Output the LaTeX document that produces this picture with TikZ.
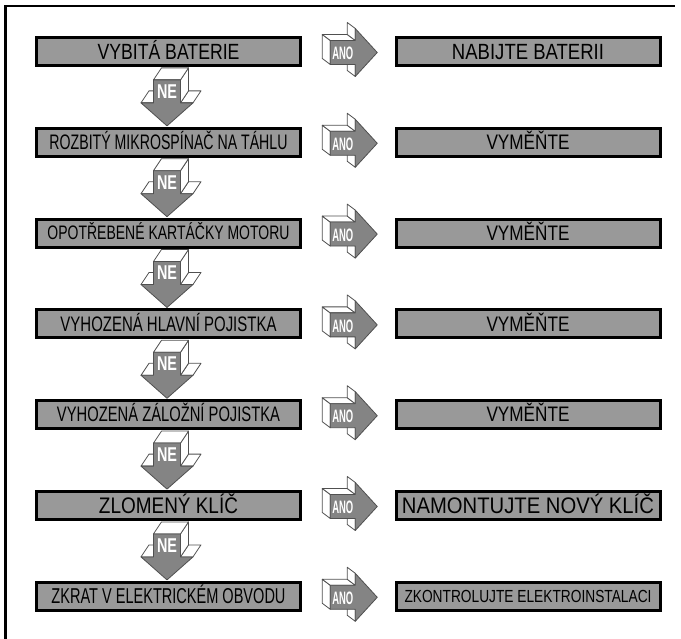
\documentclass[tikz,border=0pt]{standalone}
\usepackage{fontspec}
\setmainfont{Liberation Sans}
\usepackage{graphicx}
\usetikzlibrary{calc,positioning}
\definecolor{boxgray}{RGB}{153,153,153}
\definecolor{arrgray}{RGB}{132,132,132}
\definecolor{edgegray}{RGB}{80,80,80}
\tikzset{blk/.style={draw, line width=3pt, fill=boxgray, minimum width=264pt, minimum height=28pt, inner sep=0pt},
  face/.style={fill=white, draw=edgegray, line width=0.8pt, line join=round},
  front/.style={fill=arrgray, draw=edgegray, line width=0.8pt, line join=round},
  lbl/.style={text=white, inner sep=0pt}}
% width, font size, text (caps centred in the node)
\newcommand{\cond}[3]{{\fontsize{#2}{#2}\selectfont
  \raisebox{0pt}[\fontcharht\font`X][0pt]{\resizebox{#1pt}{\height}{#3}}}}

\begin{document}
\begin{tikzpicture}[x=1pt, y=-1pt]
  \useasboundingbox (0,0) rectangle (681,639);
  % frame
  \draw[line width=2.5pt] (5.5,639) -- (5.5,6) -- (675,6);
  % causes
  \node[blk] (l1) at (168.5,51.5)  {\cond{142}{22}{VYBITÁ BATERIE}};
  \node[blk] (l2) at (168.5,142.3) {\cond{238}{21}{ROZBITÝ MIKROSPÍNAČ NA TÁHLU}};
  \node[blk] (l3) at (168.5,233.1) {\cond{242}{19.5}{OPOTŘEBENÉ KARTÁČKY MOTORU}};
  \node[blk] (l4) at (168.5,323.9) {\cond{216}{21}{VYHOZENÁ HLAVNÍ POJISTKA}};
  \node[blk] (l5) at (168.5,414.7) {\cond{223}{21}{VYHOZENÁ ZÁLOŽNÍ POJISTKA}};
  \node[blk] (l6) at (168.5,505.5) {\cond{139}{22.5}{ZLOMENÝ KLÍČ}};
  \node[blk] (l7) at (168.5,596.3) {\cond{234}{21.5}{ZKRAT V ELEKTRICKÉM OBVODU}};
  % remedies
  \node[blk] (r1) at (528,51.5)  {\cond{152}{22}{NABIJTE BATERII}};
  \node[blk] (r2) at (528,142.3) {\cond{83}{21}{VYMĚŇTE}};
  \node[blk] (r3) at (528,233.1) {\cond{83}{21}{VYMĚŇTE}};
  \node[blk] (r4) at (528,323.9) {\cond{83}{21}{VYMĚŇTE}};
  \node[blk] (r5) at (528,414.7) {\cond{83}{21}{VYMĚŇTE}};
  \node[blk] (r6) at (528,505.5) {\cond{252}{22.5}{NAMONTUJTE NOVÝ KLÍČ}};
  \node[blk] (r7) at (528,596.3) {\cond{247}{17.5}{ZKONTROLUJTE ELEKTROINSTALACI}};
  % ANO arrows
  \foreach \i in {1,...,7}{
    \begin{scope}[shift={($(l\i.east)!0.5!(r\i.west)+(0,1)$)}]
      \draw[face] (-18,-12) -- (-18,12) -- (-26,6) -- (-26,-18) -- cycle;
      \draw[face] (-18,-12) -- (7,-12) -- (-1,-18) -- (-26,-18) -- cycle;
      \draw[face] (7,-24) -- (7,-12) -- (-1,-18) -- (-1,-30) -- cycle;
      \draw[face] (7,12) -- (7,24) -- (-1,18) -- (-1,6) -- cycle;
      \draw[front] (-18,-12) -- (7,-12) -- (7,-24) -- (29,0) -- (7,24) -- (7,12) -- (-18,12) -- cycle;
      \node[lbl] (ano\i) at (-5.5,1) {\cond{21}{18}{\bfseries ANO}};
    \end{scope}
  }
  % NE arrows
  \foreach \i/\j in {1/2,2/3,3/4,4/5,5/6,6/7}{
    \begin{scope}[shift={($(l\i.south)!0.5!(l\j.north)+(-1.5,0)$)}]
      \draw[face] (-26,6) -- (-13.5,6) -- (-5.5,-6) -- (-18,-6) -- cycle;
      \draw[face] (13.5,6) -- (26,6) -- (34,-6) -- (21.5,-6) -- cycle;
      \draw[face] (13.5,-17) -- (13.5,6) -- (21.5,-6) -- (21.5,-29) -- cycle;
      \draw[face] (-13.5,-17) -- (13.5,-17) -- (21.5,-29) -- (-5.5,-29) -- cycle;
      \draw[front] (-13.5,-17) -- (13.5,-17) -- (13.5,6) -- (26,6) -- (0,29) -- (-26,6) -- (-13.5,6) -- cycle;
      \node[lbl] (ne\i) at (0,-5.5) {\cond{20}{20}{\bfseries NE}};
    \end{scope}
  }
\end{tikzpicture}
\end{document}
